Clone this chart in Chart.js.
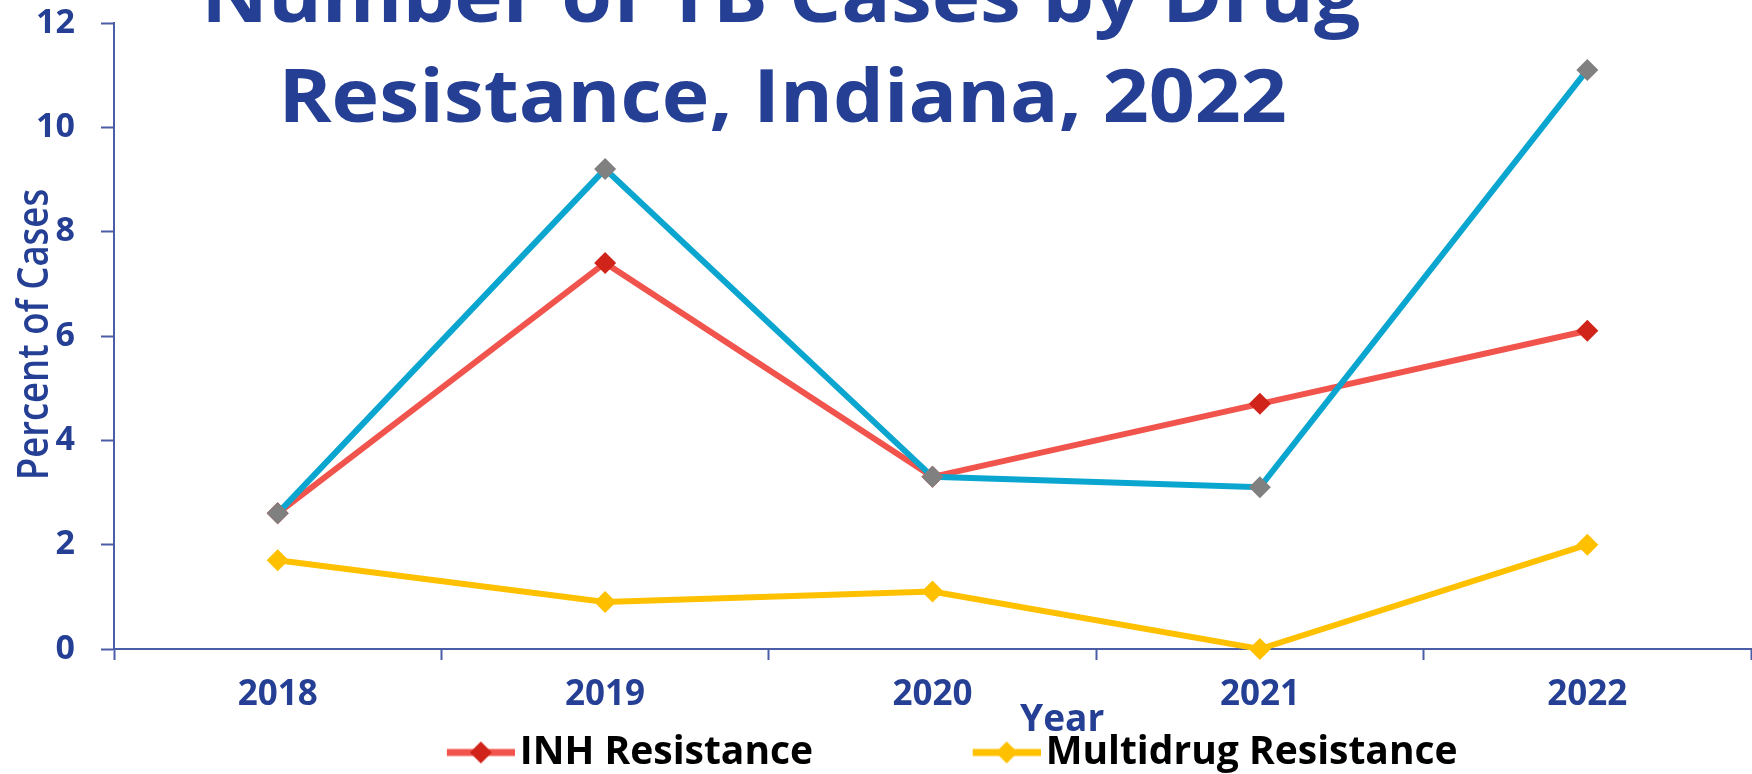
<!DOCTYPE html>
<html>
<head>
<meta charset="utf-8">
<title>Number of TB Cases by Drug Resistance, Indiana, 2022</title>
<script src="https://cdn.jsdelivr.net/npm/chart.js@4.4.0/dist/chart.umd.min.js"></script>
<style>
  html, body { margin: 0; padding: 0; background: #fff; overflow: hidden; }
  canvas { display: block; }
</style>
</head>
<body>
<canvas id="tbChart" width="1762" height="806"></canvas>
<script>
// Chart data
const years = ['2018', '2019', '2020', '2021', '2022'];
const inhResistance = [2.6, 7.4, 3.3, 4.7, 6.1];
const multidrugResistance = [1.7, 0.9, 1.1, 0, 2.0];
const anyResistance = [2.6, 9.2, 3.3, 3.1, 11.1];
const yTicks = [0, 2, 4, 6, 8, 10, 12];

const titleLines = ['Number of TB Cases by Drug', 'Resistance, Indiana, 2022'];
const xTitle = 'Year';
const yTitle = 'Percent of Cases';
const legendNames = ['INH Resistance', 'Multidrug Resistance'];

const navy = '#243f94';
const axisBlue = '#4a5da6';
const family = "'Open Sans', 'Noto Sans', sans-serif";

// the picture is a crop: the top of the chart sits above the window
const cropTop = 24;
const canvas = document.getElementById('tbChart');
canvas.style.marginTop = -cropTop + 'px';

// small line + diamond picture used as the legend symbol
function legendSwatch(lineColor, markColor) {
    const c = document.createElement('canvas');
    c.width = 226;
    c.height = 26;
    const g = c.getContext('2d');
    g.strokeStyle = lineColor;
    g.lineWidth = 7;
    g.beginPath();
    g.moveTo(158, 13);
    g.lineTo(226, 13);
    g.stroke();
    g.fillStyle = markColor;
    g.beginPath();
    g.moveTo(181, 13);
    g.lineTo(192, 2);
    g.lineTo(203, 13);
    g.lineTo(192, 24);
    g.closePath();
    g.fill();
    return c;
}

// text squeezed/stretched so its ink covers [from, to]
function fitText(ctx, text, font, from, to, base, vertical) {
    ctx.save();
    ctx.font = font;
    ctx.fillStyle = navy;
    ctx.textAlign = 'left';
    ctx.textBaseline = 'alphabetic';
    const m = ctx.measureText(text);
    const ink = m.actualBoundingBoxLeft + m.actualBoundingBoxRight;
    const sx = Math.abs(to - from) / ink;
    if (vertical) {
        ctx.translate(base, from);
        ctx.rotate(-Math.PI / 2);
    } else {
        ctx.translate(from, base);
    }
    ctx.scale(sx, 1);
    ctx.fillText(text, m.actualBoundingBoxLeft, 0);
    ctx.restore();
}

const textPlugin = {
    id: 'chartTexts',
    afterDraw(chart) {
        const ctx = chart.ctx;
        const t = cropTop;
        fitText(ctx, titleLines[0], `bold 73px ${family}`, 208, 1360, 22 + t, false);
        fitText(ctx, titleLines[1], `bold 73px ${family}`, 285, 1285, 122 + t, false);
        fitText(ctx, xTitle, `bold 38px ${family}`, 1020, 1104, 731 + t, false);
        fitText(ctx, yTitle, `600 44px ${family}`, 477 + t, 190 + t, 48, true);
    }
};

const swatches = [
    legendSwatch('#f0544c', '#d0241a'),
    legendSwatch('#ffc000', '#ffc000')
];

new Chart(canvas, {
    type: 'line',
    data: {
        labels: years,
        datasets: [
            {
                label: 'Any Drug Resistance',
                data: anyResistance,
                borderColor: '#0ba6cf',
                borderWidth: 6,
                pointStyle: 'rectRot',
                pointRadius: 11,
                pointBorderWidth: 0,
                pointBackgroundColor: '#808080',
                order: 0
            },
            {
                label: legendNames[0],
                data: inhResistance,
                borderColor: '#f0544c',
                borderWidth: 6,
                pointStyle: 'rectRot',
                pointRadius: 11,
                pointBorderWidth: 0,
                pointBackgroundColor: '#d0241a',
                order: 1
            },
            {
                label: legendNames[1],
                data: multidrugResistance,
                borderColor: '#ffc000',
                borderWidth: 6,
                pointStyle: 'rectRot',
                pointRadius: 11,
                pointBorderWidth: 0,
                pointBackgroundColor: '#ffc000',
                order: 2
            }
        ]
    },
    options: {
        responsive: false,
        animation: false,
        devicePixelRatio: 1,
        events: [],
        clip: false,
        layout: {
            padding: { top: 47, right: 1, bottom: 0, left: 0 }
        },
        scales: {
            x: {
                offset: true,
                grid: {
                    offset: true,
                    drawOnChartArea: false,
                    color: axisBlue,
                    tickLength: 11,
                    tickWidth: 2
                },
                border: { color: axisBlue, width: 2 },
                ticks: {
                    color: navy,
                    padding: 14,
                    font: { family: family, size: 35, weight: 'bold' }
                },
                afterFit(scale) {
                    scale.height = 68;
                }
            },
            y: {
                min: yTicks[0],
                max: yTicks[yTicks.length - 1],
                grid: {
                    drawOnChartArea: false,
                    color: axisBlue,
                    tickLength: 13,
                    tickWidth: 2
                },
                border: { color: axisBlue, width: 2 },
                ticks: {
                    stepSize: yTicks[1] - yTicks[0],
                    color: navy,
                    padding: 26,
                    font: { family: family, size: 34, weight: 'bold' }
                },
                afterFit(scale) {
                    scale.width = 114;
                }
            }
        },
        plugins: {
            title: { display: false },
            tooltip: { enabled: false },
            legend: {
                position: 'bottom',
                labels: {
                    usePointStyle: true,
                    pointStyleWidth: 197,
                    padding: 16,
                    color: navy,
                    font: { family: family, size: 39, weight: 'bold' },
                    generateLabels() {
                        // third series sits on a legend row cut off below the picture
                        return legendNames.map((text, i) => ({
                            text: text,
                            pointStyle: swatches[i],
                            fillStyle: 'rgba(0,0,0,0)',
                            strokeStyle: 'rgba(0,0,0,0)',
                            lineWidth: 0,
                            hidden: false,
                            datasetIndex: i + 1
                        }));
                    }
                }
            }
        }
    },
    plugins: [textPlugin]
});
</script>
</body>
</html>
